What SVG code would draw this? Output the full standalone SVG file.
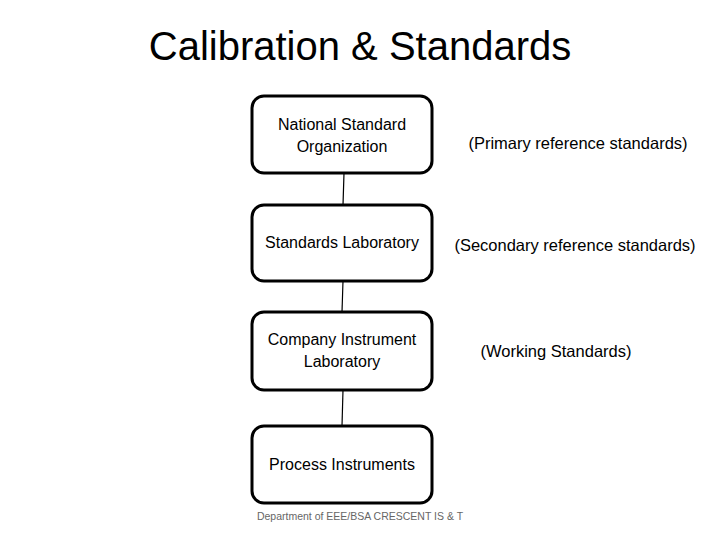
<svg xmlns="http://www.w3.org/2000/svg" width="720" height="540" viewBox="0 0 720 540">
<style>
.box{fill:#fff;stroke:#000;stroke-width:3}
.t{font-family:"Liberation Sans",Arial,sans-serif;font-size:16px;fill:#000;text-anchor:middle}
.side{font-family:"Liberation Sans",Arial,sans-serif;font-size:16.5px;fill:#000;text-anchor:middle}
.conn{stroke:#000;stroke-width:1.2;fill:none}
</style>
<rect width="720" height="540" fill="#fff"/>
<text x="360" y="60" style="font-family:'Liberation Sans',Arial,sans-serif;font-size:40px;fill:#000;text-anchor:middle">Calibration &amp; Standards</text>
<g id="connectors">
<line class="conn" x1="344" y1="173" x2="343" y2="205"/>
<line class="conn" x1="343" y1="281" x2="342" y2="312"/>
<line class="conn" x1="343" y1="390" x2="342" y2="426"/>
</g>
<g id="node1">
<rect class="box" x="252" y="96" width="180" height="77" rx="12"/>
<text class="t" x="342" y="130">National Standard</text>
<text class="t" x="342" y="152">Organization</text>
</g>
<g id="node2">
<rect class="box" x="252" y="205" width="180" height="76" rx="12"/>
<text class="t" x="342" y="248">Standards Laboratory</text>
</g>
<g id="node3">
<rect class="box" x="252" y="312" width="180" height="78" rx="12"/>
<text class="t" x="342" y="345">Company Instrument</text>
<text class="t" x="342" y="367">Laboratory</text>
</g>
<g id="node4">
<rect class="box" x="252" y="426" width="180" height="77" rx="12"/>
<text class="t" x="342" y="470">Process Instruments</text>
</g>
<g id="labels">
<text class="side" x="578" y="149">(Primary reference standards)</text>
<text class="side" x="575" y="251">(Secondary reference standards)</text>
<text class="side" x="556" y="357">(Working Standards)</text>
</g>
<text x="360" y="520" style="font-family:'Liberation Sans',Arial,sans-serif;font-size:10.5px;fill:#666;text-anchor:middle">Department of EEE/BSA CRESCENT IS &amp; T</text>
</svg>
